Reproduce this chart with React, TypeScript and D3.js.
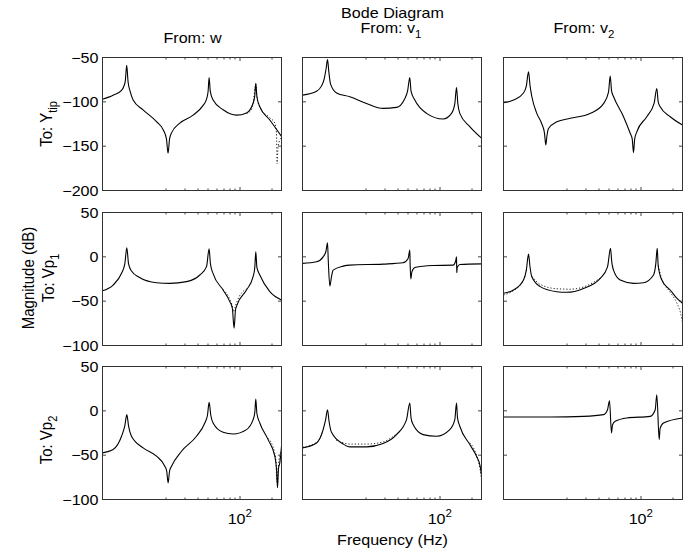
import * as d3 from 'd3';

// frequency axis (Hz) and tick values
const FREQ_RANGE = [5.05, 247.6];
const X_TICKS = [20, 30, 40, 50, 60, 70, 80, 90, 100, 200];
const X_MAJOR = [100];
const Y_TICKS_TIP = [-200, -150, -100, -50];
const Y_TICKS_VP = [-100, -50, 0, 50];

const tipW = [[5.05,-97],[6.36,-92.5],[7.64,-87],[8.0,-83],[8.3,-76],[8.55,-58.7],[8.8,-77],[9.2,-88],[9.83,-98],[12.2,-109],[16.35,-122.4],[19.0,-132],[20.3,-142],[21.0,-158],[21.7,-142],[22.65,-135],[27.13,-124],[36.2,-115],[45.0,-104],[48.5,-97],[50.2,-88],[51.3,-72.5],[52.6,-88],[55.96,-98],[69.6,-109],[93.1,-115],[115.7,-112.5],[133.5,-101.6],[138.5,-93],[141.6,-79],[145,-94],[154.5,-105.6],[192,-120.5],[247.6,-139]];
const tipWMeas = [[115.7,-113],[125,-111],[133.5,-102],[141.6,-80],[145,-95],[154.5,-106],[192,-118],[214,-124],[222,-135],[225,-170],[230,-150],[247.6,-140]];
const tipV1 = [[5.05,-92.4],[6.85,-88],[7.64,-82],[8.1,-74],[8.45,-62],[8.7,-52.3],[8.95,-66],[9.3,-80],[10.6,-90],[14.13,-94.3],[20.32,-101.8],[29.14,-107.4],[39,-106.3],[46.4,-97],[49.6,-88],[52.07,-72.5],[53.5,-88],[58.07,-98],[74.9,-113],[107.5,-119.4],[129,-113],[138.6,-102],[143.8,-83.8],[148,-102],[154.5,-113],[192,-128],[247.6,-141]];
const tipV2 = [[5.05,-101],[6.28,-98],[7.8,-90],[8.3,-82],[8.7,-66.2],[9.0,-82],[9.35,-94],[10.42,-113],[11.62,-125],[12.3,-135],[12.68,-148.7],[13.0,-138],[13.44,-130],[16.1,-122.5],[21.54,-118.6],[33.2,-113.1],[44.45,-102],[49.55,-89],[51.4,-71],[53,-88],[55.23,-94],[68.66,-116.8],[79.42,-135.5],[83,-142],[85.33,-157.3],[87.5,-142],[91.67,-133.8],[113.9,-116.8],[133.5,-101.8],[141.6,-84.9],[146,-100],[152.5,-105.6],[189.5,-116.8],[247.6,-126.2]];

const vp1W = [[5.05,-38.2],[6.36,-31.8],[7.64,-18.6],[8.2,-8],[8.57,10.2],[8.9,-8],[9.49,-16],[11.2,-23],[16.35,-29.2],[21.83,-29.9],[31.39,-28],[41.92,-20.5],[48.49,-11],[51.3,9],[52.8,-8],[55.96,-19],[69.57,-37.4],[80.46,-50.5],[85,-58],[88.35,-80.5],[91,-60],[94.3,-54],[115.7,-37.4],[133.5,-22.4],[138.5,-12],[141.6,5.7],[145,-12],[154.5,-20.5],[192,-39.3],[247.6,-48.6]];
const vp1WMeas = [[69.57,-37],[80.46,-48],[85.5,-57],[87,-62],[90,-57],[94.3,-50],[115.7,-36]];
const vp1V1 = [[5.05,-7.4],[6.85,-5.6],[7.91,0],[8.4,6],[8.7,15.8],[8.85,-5],[9.15,-32.9],[9.5,-22],[9.83,-15],[12.22,-10.5],[14.13,-9.3],[29.14,-8.2],[45,-6.7],[50.2,-1.8],[52.07,7.6],[52.5,-10],[53.22,-25],[54.5,-17],[58.07,-12],[85.3,-9.8],[133.5,-9.4],[141,-5],[143.8,0],[144.2,-10],[144.7,-18],[146,-12],[154.5,-8.6],[247.6,-7.9]];
const vp1V2 = [[5.05,-41.1],[6.28,-37.4],[7.8,-26.2],[8.3,-15],[8.7,3.1],[9.0,-12],[9.35,-22.4],[11.22,-33.6],[16.1,-39.3],[19.9,-40],[28.76,-35.6],[41.37,-24.3],[48.49,-11.3],[51.74,9.5],[53.2,-6],[55.23,-15],[63.9,-26.2],[85.33,-29.9],[106,-29.2],[131.8,-20.5],[138.5,-8],[142.9,9.5],[146,-10],[157.9,-26.2],[189.5,-37.4],[218.8,-46.7],[247.6,-52.4]];
const vp1V2MeasLow = [[5.05,-43],[6.28,-38],[7.8,-26],[8.3,-15]];
const vp1V2MeasMid = [[9.35,-22],[11.22,-31],[16.1,-36],[21.5,-36.5],[28.76,-34],[41.37,-24]];
const vp1V2MeasHigh = [[146,-10],[157.9,-25],[189.5,-40],[218.8,-52],[238,-64],[247.6,-74]];

const vp2W = [[5.05,-47.4],[6.36,-43.7],[7.64,-28.7],[8.2,-17],[8.57,-4.3],[8.9,-17],[9.49,-28.7],[12.22,-41.8],[16.35,-51.2],[19.58,-62.5],[20.4,-68],[21.04,-81.2],[21.7,-68],[22.65,-62.5],[28.14,-45.6],[39,-28.7],[46.72,-13.7],[49.5,-5],[51.3,9.5],[53.2,-5],[55.96,-13.7],[69.57,-24.2],[86.45,-26.1],[115.7,-21.2],[133.5,-10],[138.5,-2],[141.6,13.3],[145,-3],[154.5,-13.7],[185,-32.5],[214.1,-51.2],[222,-65],[227,-86.8],[232,-65],[238.6,-58.7],[247.6,-40]];
const vp2WMeas = [[185,-31],[214.1,-48],[220,-60],[224,-80],[228,-70],[235,-55],[247.6,-45]];
const vp2V1 = [[5.05,-41.8],[6.85,-36.2],[7.91,-21.2],[8.35,-10],[8.7,1.3],[9.0,-12],[9.49,-24.2],[12.22,-37.4],[14.13,-40.7],[20.32,-40.7],[29.14,-36.9],[39,-26.8],[48.49,-9.9],[52.07,8.8],[53.5,-8],[55.96,-15.5],[69.57,-26.8],[93.07,-28.7],[124.29,-21.2],[138.6,-9.9],[143.8,8.8],[147,-8],[154.5,-17.4],[192,-38],[222.2,-51.2],[240,-62],[247.6,-72]];
const vp2V1MeasLow = [[5.05,-41],[7,-35],[7.91,-22]];
const vp2V1MeasMid = [[10.5,-33],[12.22,-36],[14.13,-37.5],[20.32,-37.5],[29.14,-35],[39,-26]];
const vp2V1MeasHigh = [[192,-36],[222,-50],[240,-66],[247.6,-78]];
const vp2V2 = [[5.05,-6.9],[14.13,-6.9],[28.76,-6.2],[44.45,-4.3],[48.49,1.3],[50.63,11.4],[52.87,-24.9],[54,-16],[57.32,-11.8],[73.76,-8],[122.67,-6.2],[136.8,1.3],[141.6,18.2],[149.2,-32.4],[152,-20],[163.8,-13.7],[247.6,-8]];

const COL_LEFT = [102.5, 302.5, 503.5];
const ROW_TOP = [57.5, 212.5, 366.5];
const PW = 179;
const PH = 133;

const panels = [
  { row: 0, col: 0, main: tipW, meas: [tipWMeas] },
  { row: 0, col: 1, main: tipV1, meas: [] },
  { row: 0, col: 2, main: tipV2, meas: [] },
  { row: 1, col: 0, main: vp1W, meas: [vp1WMeas] },
  { row: 1, col: 1, main: vp1V1, meas: [] },
  { row: 1, col: 2, main: vp1V2, meas: [vp1V2MeasLow, vp1V2MeasMid, vp1V2MeasHigh] },
  { row: 2, col: 0, main: vp2W, meas: [vp2WMeas] },
  { row: 2, col: 1, main: vp2V1, meas: [vp2V1MeasLow, vp2V1MeasMid, vp2V1MeasHigh] },
  { row: 2, col: 2, main: vp2V2, meas: [] },
];

const FONT = "'Liberation Sans', Arial, Helvetica, sans-serif";
const SX = 1.15;

function Txt({ x, y, anchor = 'middle', size = 14, rot = false, children }: any) {
  return (
    <text
      transform={`translate(${x},${y}) scale(${SX},1)${rot ? ' rotate(-90)' : ''}`}
      textAnchor={anchor}
      fontSize={size}
      fontFamily={FONT}
      fill="#000"
    >
      {children}
    </text>
  );
}

const fmt = (v: number) => (v < 0 ? '\u2212' + Math.abs(v) : String(v));

function Panel({ row, col, main, meas }: any) {
  const x0 = COL_LEFT[col];
  const y0 = ROW_TOP[row];
  const x = d3.scaleLog().domain(FREQ_RANGE).range([0, PW]);
  const y = d3.scaleLinear().domain(row === 0 ? [-200, -50] : [-100, 50]).range([PH, 0]);
  const yTicks = row === 0 ? Y_TICKS_TIP : Y_TICKS_VP;
  const line = d3
    .line<number[]>()
    .x(d => x(d[0]))
    .y(d => y(d[1]))
    .curve(d3.curveMonotoneX);
  const clipId = `clip-${row}-${col}`;
  return (
    <g transform={`translate(${x0},${y0})`}>
      <defs>
        <clipPath id={clipId}>
          <rect x={0} y={0} width={PW} height={PH} />
        </clipPath>
      </defs>
      <rect x={0} y={0} width={PW} height={PH} fill="#fff" />
      <g clipPath={`url(#${clipId})`}>
        {meas.map((seg: number[][], i: number) => (
          <path key={i} d={line(seg) || ''} fill="none" stroke="#222" strokeWidth={1} strokeDasharray="1.2,2" />
        ))}
        <path d={line(main) || ''} fill="none" stroke="#000" strokeWidth={1.1} strokeLinejoin="round" />
      </g>
      {X_TICKS.map(t => {
        const len = X_MAJOR.includes(t) ? 3.5 : 2;
        const xt = Math.round(x(t)) + 0.5;
        return (
          <g key={'x' + t} stroke="#444" strokeWidth={1}>
            <line x1={xt} x2={xt} y1={PH} y2={PH - len} />
            <line x1={xt} x2={xt} y1={0} y2={len} />
          </g>
        );
      })}
      {yTicks.map(t => (
        <g key={'y' + t} stroke="#444" strokeWidth={1}>
          <line x1={0} x2={3.5} y1={y(t)} y2={y(t)} />
          <line x1={PW} x2={PW - 3.5} y1={y(t)} y2={y(t)} />
        </g>
      ))}
      <rect x={0} y={0} width={PW} height={PH} fill="none" stroke="#333" strokeWidth={1} />
      {col === 0 &&
        yTicks.map(t => (
          <Txt key={'yl' + t} x={-4} y={y(t) + 5} anchor="end">
            {fmt(t)}
          </Txt>
        ))}
      {row === 2 &&
        X_MAJOR.map(t => (
          <Txt key={'xl' + t} x={x(t)} y={PH + 24}>
            10<tspan fontSize={10} dy={-7}>2</tspan>
          </Txt>
        ))}
    </g>
  );
}

export default function App() {
  return (
    <svg
      width={700}
      height={552}
      style={{ position: 'absolute', left: 0, top: 0, background: '#fff' }}
    >
      <rect width={700} height={552} fill="#fff" />
      {panels.map(p => (
        <Panel key={`${p.row}-${p.col}`} {...p} />
      ))}
      <Txt x={392.5} y={18}>Bode Diagram</Txt>
      <Txt x={192.5} y={43}>From: w</Txt>
      <Txt x={391} y={33}>
        From: v<tspan fontSize={10} dy={5}>1</tspan>
      </Txt>
      <Txt x={584} y={33}>
        From: v<tspan fontSize={10} dy={5}>2</tspan>
      </Txt>
      <Txt x={52} y={124} rot size={15}>
        To: Y<tspan fontSize={11} dy={4}>tip</tspan>
      </Txt>
      <Txt x={34} y={278} rot size={15}>Magnitude (dB)</Txt>
      <Txt x={54} y={278} rot size={15}>
        To: Vp<tspan fontSize={11} dy={4}>1</tspan>
      </Txt>
      <Txt x={52} y={440} rot size={15}>
        To: Vp<tspan fontSize={11} dy={4}>2</tspan>
      </Txt>
      <Txt x={392.5} y={545}>Frequency  (Hz)</Txt>
    </svg>
  );
}
